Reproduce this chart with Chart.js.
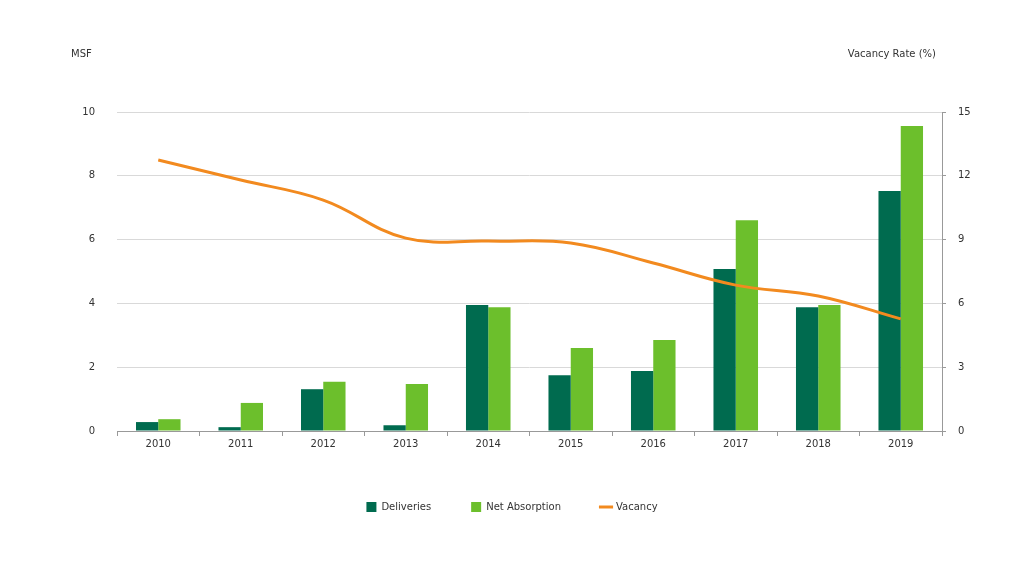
<!DOCTYPE html>
<html><head><meta charset="utf-8">
<script src="https://cdn.jsdelivr.net/npm/chart.js@4"></script>
<style>body{margin:0;background:#fff}#wrap{width:1024px;height:576px}</style>
</head><body><div id="wrap"><canvas id="c"></canvas></div>
<script>
const years = ["2010","2011","2012","2013","2014","2015","2016","2017","2018","2019"];
const deliveries = [0.28,0.12,1.31,0.18,3.95,1.75,1.88,5.08,3.88,7.52];
const netAbsorption = [0.37,0.88,1.54,1.47,3.88,2.6,2.85,6.61,3.95,9.56];
const vacancy = [12.74,11.8,10.86,9.07,8.93,8.84,7.9,6.86,6.35,5.27];

const font = {family: "'DejaVu Sans', sans-serif", size: 10};
const txt = "#333";
const legendOrder = ["Deliveries", "Net Absorption", "Vacancy"];

const axisTitles = {
  id: "axisTitles",
  afterDraw(chart) {
    const ctx = chart.ctx;
    ctx.save();
    ctx.font = "10px 'DejaVu Sans', sans-serif";
    ctx.fillStyle = txt;
    ctx.textBaseline = "middle";
    ctx.textAlign = "left";
    ctx.fillText("MSF", 71, 54);
    ctx.textAlign = "right";
    ctx.fillText("Vacancy Rate (%)", 936, 54);
    ctx.restore();
  }
};

new Chart(document.getElementById("c"), {
  data: {
    labels: years,
    datasets: [
      {type: "line", label: "Vacancy", data: vacancy, yAxisID: "y1", borderColor: "#f28a1f",
       backgroundColor: "#f28a1f", borderWidth: 3, tension: 0.4, pointRadius: 0, pointStyle: "line", order: 0},
      {type: "bar", label: "Deliveries", data: deliveries, yAxisID: "y", backgroundColor: "#006b4f",
       categoryPercentage: 0.54, barPercentage: 1, pointStyle: "rect", order: 1},
      {type: "bar", label: "Net Absorption", data: netAbsorption, yAxisID: "y", backgroundColor: "#6cbf2c",
       categoryPercentage: 0.54, barPercentage: 1, pointStyle: "rect", order: 1}
    ]
  },
  options: {
    responsive: true, maintainAspectRatio: false, animation: false,
    layout: {padding: {top: 112, bottom: 54, left: 0, right: 0}},
    plugins: {
      tooltip: {enabled: false},
      legend: {
        position: "bottom",
        labels: {
          font: font, color: txt, usePointStyle: true, boxWidth: 10, boxHeight: 10, padding: 40,
          sort: (a, b) => legendOrder.indexOf(a.text) - legendOrder.indexOf(b.text)
        }
      }
    },
    scales: {
      x: {
        afterFit: s => { s.height = 31; },
        ticks: {font: font, color: txt, padding: 2},
        grid: {drawOnChartArea: false, offset: true, tickLength: 5, color: "#999"},
        border: {color: "#999"}
      },
      y: {
        position: "left", min: 0, max: 10,
        afterFit: s => { s.width = 117; },
        ticks: {stepSize: 2, font: font, color: txt, padding: 22},
        grid: {color: "#d9d9d9", drawTicks: false},
        border: {display: false}
      },
      y1: {
        position: "right", min: 0, max: 15,
        afterFit: s => { s.width = 82; },
        ticks: {stepSize: 3, font: font, color: txt, padding: 12},
        grid: {drawOnChartArea: false, tickLength: 4, color: "#999"},
        border: {color: "#999"}
      }
    }
  },
  plugins: [axisTitles]
});
</script></body></html>
